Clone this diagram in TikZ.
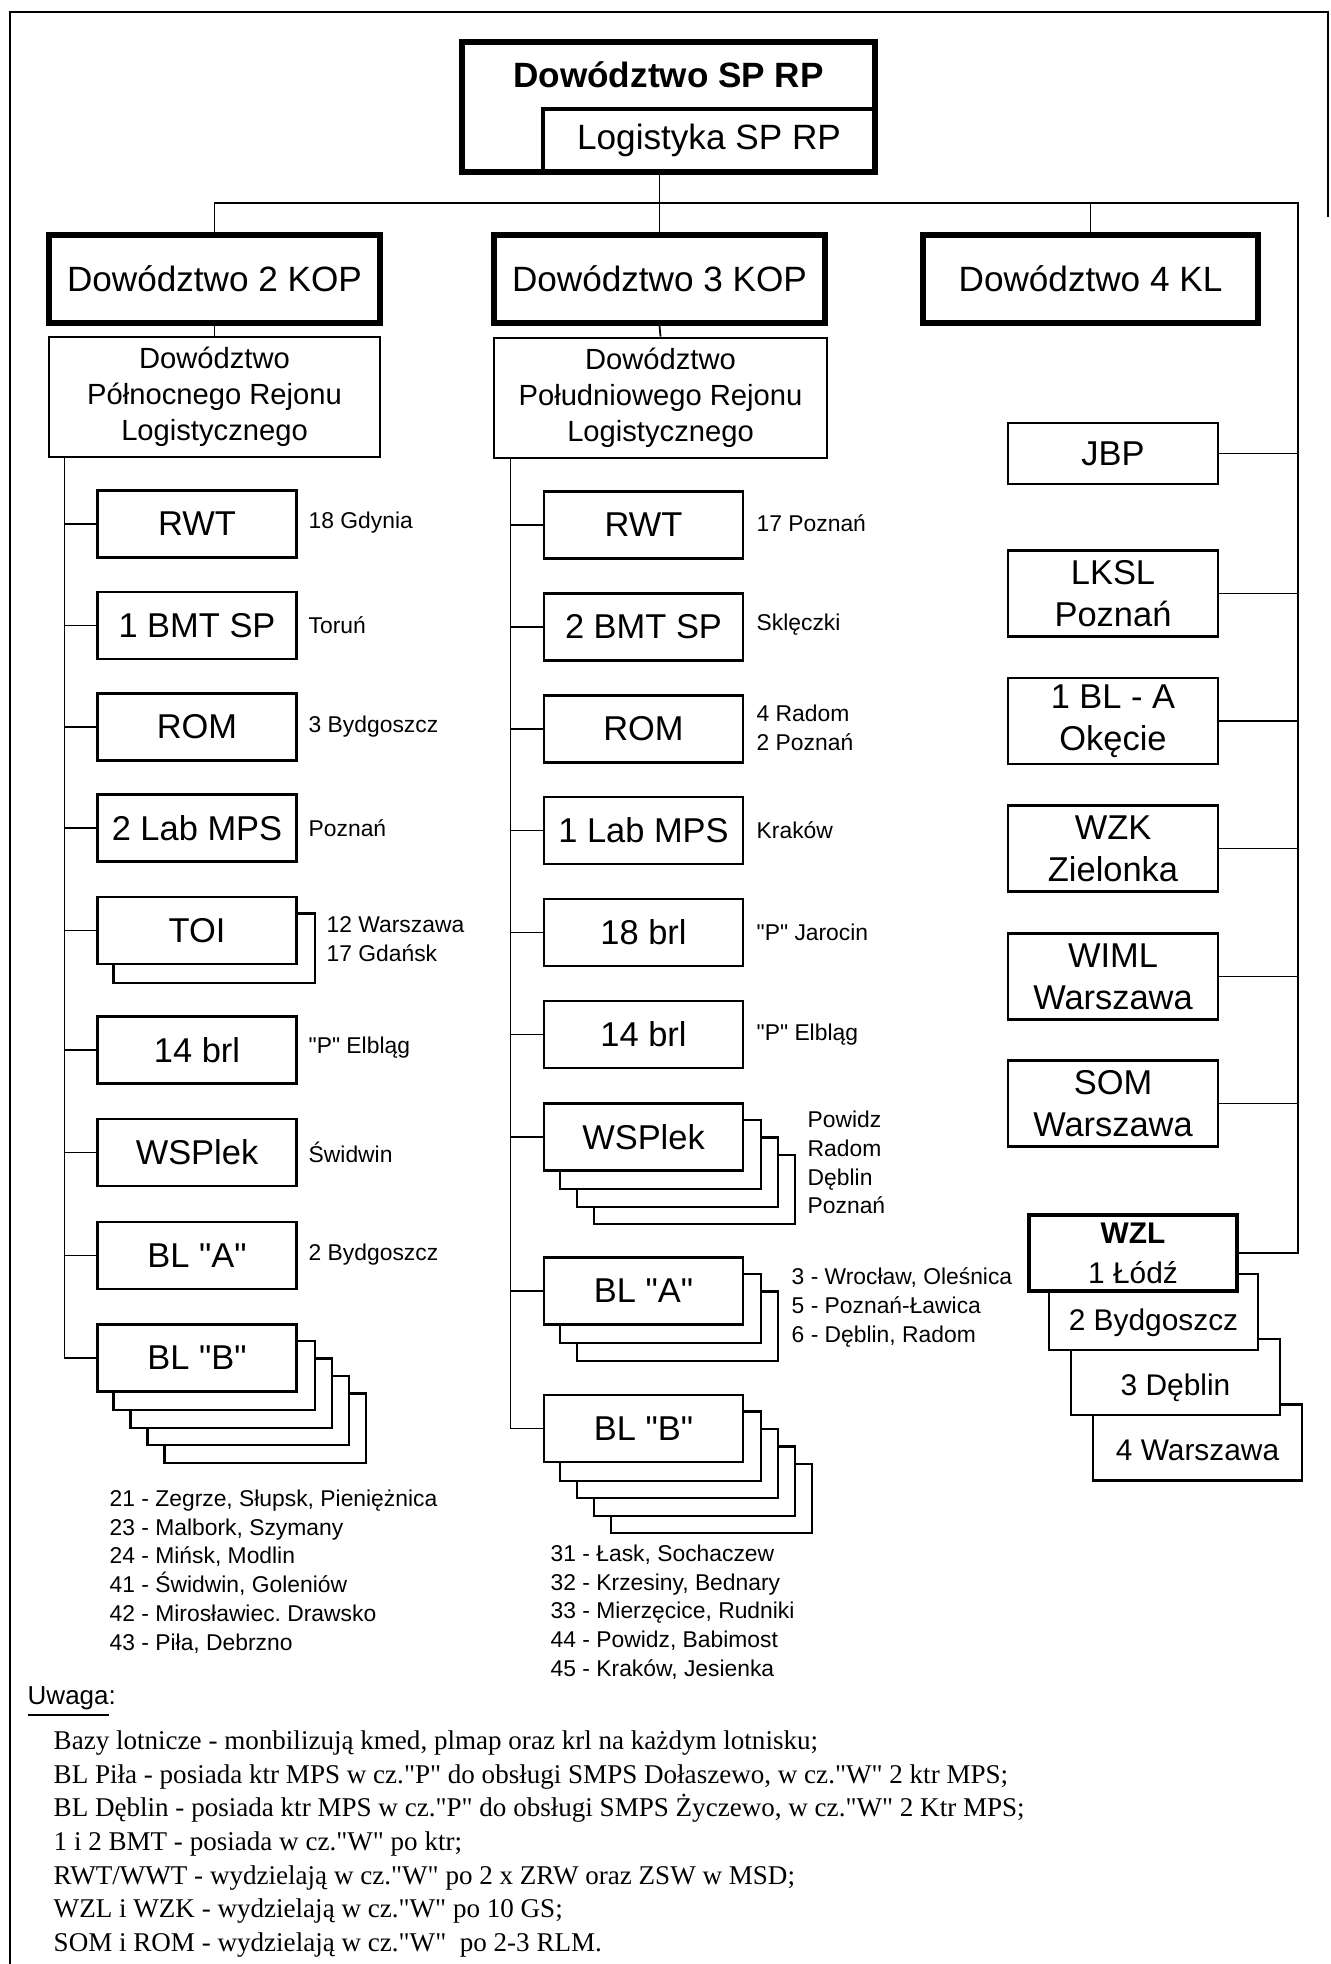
\documentclass[tikz,border=0pt]{standalone}
\usepackage{fontspec}
\setmainfont{Liberation Sans}[Ligatures=TeXOff]
\newfontfamily\notefont{Liberation Serif}[Ligatures=TeXOff]
\usetikzlibrary{backgrounds}
\frenchspacing

\begin{document}
\begin{tikzpicture}[
    cmdbox/.style={draw, line width=1.5pt, fill=white, minimum width=3.31cm,
      minimum height=0.88cm, inner sep=0pt, font=\fontsize{10}{12}\selectfont},
    rejbox/.style={draw, line width=0.8pt, fill=white, minimum width=3.31cm,
      minimum height=1.20cm, inner sep=0pt, align=center,
      font=\fontsize{8.3}{10.2}\selectfont},
    unitbox/.style={draw, line width=0.7pt, fill=white, minimum width=1.99cm,
      minimum height=0.67cm, inner sep=0pt, font=\fontsize{9.8}{12}\selectfont},
    klbox/.style={draw, line width=0.8pt, fill=white, minimum width=2.10cm,
      minimum height=0.86cm, inner sep=0pt, align=center,
      font=\fontsize{9.8}{12}\selectfont},
    wzlbox/.style={draw, line width=0.8pt, fill=white, minimum width=2.09cm,
      inner sep=0pt, text height=0.56cm, text depth=0.20cm,
      font=\fontsize{8.5}{10}\selectfont},
    place/.style={anchor=west, inner sep=0pt, align=left,
      font=\fontsize{6.5}{8.2}\selectfont},
    shadowbox/.style={draw, line width=0.7pt, fill=white},
    link/.style={line width=0.5pt}
  ]
  \useasboundingbox (0,0) rectangle (13.3,-19.64);
  \draw[line width=0.6pt] (0.10,-19.64) -- (0.10,-0.12) -- (13.28,-0.12) -- (13.28,-2.17);

  % command
  \node[draw, line width=1.5pt, minimum width=4.13cm, inner sep=0pt,
    text height=0.455cm, text depth=0.845cm,
    font=\bfseries\fontsize{10}{12}\selectfont] (spHQ) at (6.685,-1.07) {Dowództwo SP RP};
  \node[draw, line width=0.9pt, minimum width=3.32cm, minimum height=0.63cm,
    inner sep=0pt, font=\fontsize{10}{12}\selectfont] (logSP) at (7.09,-1.405) {Logistyka SP RP};

  \node[cmdbox] (kop2) at (2.145,-2.79) {Dowództwo 2 KOP};
  \node[cmdbox] (kop3) at (6.595,-2.79) {Dowództwo 3 KOP};
  \node[cmdbox, minimum width=3.35cm] (kop4) at (10.905,-2.79) {Dowództwo 4 KL};

  \node[rejbox] (rejN) at (2.145,-3.97) {Dowództwo\\Północnego Rejonu\\Logistycznego};
  \node[rejbox, minimum width=3.33cm] (rejS) at (6.605,-3.98) {Dowództwo\\Południowego Rejonu\\Logistycznego};

  % 2 KOP
  \node[unitbox] (rwtN) at (1.97,-5.24) {RWT};
  \node[unitbox] (bmtN) at (1.97,-6.255) {1 BMT SP};
  \node[unitbox] (romN) at (1.97,-7.27) {ROM};
  \node[unitbox] (labN) at (1.97,-8.28) {2 Lab MPS};
  \node[unitbox] (toiN) at (1.97,-9.305) {TOI};
  \node[unitbox] (brlN) at (1.97,-10.50) {14 brl};
  \node[unitbox] (wspN) at (1.97,-11.525) {WSPlek};
  \node[unitbox] (blaN) at (1.97,-12.555) {BL "A"};
  \node[unitbox] (blbN) at (1.97,-13.58) {BL "B"};

  \node[place] (rwtNat) at (3.08,-5.23) {18 Gdynia};
  \node[place] (bmtNat) at (3.08,-6.25) {Toruń};
  \node[place] (romNat) at (3.08,-7.27) {3 Bydgoszcz};
  \node[place] (labNat) at (3.08,-8.28) {Poznań};
  \node[place] (toiNat) at (3.26,-9.39) {12 Warszawa\\17 Gdańsk};
  \node[place] (brlNat) at (3.08,-10.48) {"P" Elbląg};
  \node[place] (wspNat) at (3.08,-11.52) {Świdwin};
  \node[place] (blaNat) at (3.08,-12.55) {2 Bydgoszcz};
  \node[place] (blbNat) at (1.09,-15.715)
    {21 - Zegrze, Słupsk, Pieniężnica\\23 - Malbork, Szymany\\24 - Mińsk, Modlin\\
     41 - Świdwin, Goleniów\\42 - Mirosławiec. Drawsko\\43 - Piła, Debrzno};

  % 3 KOP
  \node[unitbox] (rwtS) at (6.435,-5.25) {RWT};
  \node[unitbox] (bmtS) at (6.435,-6.27) {2 BMT SP};
  \node[unitbox] (romS) at (6.435,-7.29) {ROM};
  \node[unitbox] (labS) at (6.435,-8.305) {1 Lab MPS};
  \node[unitbox] (brlS) at (6.435,-9.325) {18 brl};
  \node[unitbox] (brlSb) at (6.435,-10.345) {14 brl};
  \node[unitbox] (wspS) at (6.435,-11.37) {WSPlek};
  \node[unitbox] (blaS) at (6.435,-12.91) {BL "A"};
  \node[unitbox] (blbS) at (6.435,-14.285) {BL "B"};

  \node[place] (rwtSat) at (7.56,-5.23) {17 Poznań};
  \node[place] (bmtSat) at (7.56,-6.25) {Sklęczki};
  \node[place] (romSat) at (7.56,-7.28) {4 Radom\\2 Poznań};
  \node[place] (labSat) at (7.56,-8.30) {Kraków};
  \node[place] (brlSat) at (7.56,-9.32) {"P" Jarocin};
  \node[place] (brlSbat) at (7.56,-10.35) {"P" Elbląg};
  \node[place] (wspSat) at (8.07,-11.625) {Powidz\\Radom\\Dęblin\\Poznań};
  \node[place] (blaSat) at (7.91,-13.075)
    {3 - Wrocław, Oleśnica\\5 - Poznań-Ławica\\6 - Dęblin, Radom};
  \node[place] (blbSat) at (5.50,-16.12)
    {31 - Łask, Sochaczew\\32 - Krzesiny, Bednary\\33 - Mierzęcice, Rudniki\\
     44 - Powidz, Babimost\\45 - Kraków, Jesienka};

  % 4 KL
  \node[klbox, minimum height=0.61cm] (jbp) at (11.13,-4.535) {JBP};
  \node[klbox] (lksl) at (11.13,-5.935) {LKSL\\Poznań};
  \node[klbox] (blaO) at (11.13,-7.21) {1 BL - A\\Okęcie};
  \node[klbox] (wzk) at (11.13,-8.485) {WZK\\Zielonka};
  \node[klbox] (wiml) at (11.13,-9.765) {WIML\\Warszawa};
  \node[klbox] (som) at (11.13,-11.035) {SOM\\Warszawa};

  \node[wzlbox] (wzl4) at (11.975,-14.425) {4 Warszawa};
  \node[wzlbox] (wzl3) at (11.755,-13.77) {3 Dęblin};
  \node[wzlbox] (wzl2) at (11.535,-13.12) {2 Bydgoszcz};
  \node[draw, line width=1.1pt, fill=white, minimum width=2.08cm, minimum height=0.76cm,
    inner sep=0pt, align=center, font=\fontsize{8.5}{11.4}\selectfont]
    (wzl) at (11.33,-12.53) {\textbf{WZL}\\1 Łódź};

  % stacked copies
  \begin{scope}[on background layer]
    \draw[shadowbox] ([shift={(0.17,-0.175)}]toiN.south west) rectangle ([shift={(0.17,-0.175)}]toiN.north east);
    \foreach \k in {4,3,2,1} {
      \draw[shadowbox] ([shift={(0.17*\k,-0.175*\k)}]blbN.south west) rectangle ([shift={(0.17*\k,-0.175*\k)}]blbN.north east);
      \draw[shadowbox] ([shift={(0.17*\k,-0.175*\k)}]blbS.south west) rectangle ([shift={(0.17*\k,-0.175*\k)}]blbS.north east);
    }
    \foreach \k in {3,2,1}
      \draw[shadowbox] ([shift={(0.17*\k,-0.175*\k)}]wspS.south west) rectangle ([shift={(0.17*\k,-0.175*\k)}]wspS.north east);
    \foreach \k in {2,1}
      \draw[shadowbox] ([shift={(0.17*\k,-0.175*\k)}]blaS.south west) rectangle ([shift={(0.17*\k,-0.175*\k)}]blaS.north east);
  \end{scope}

  % connectors
  \coordinate (busR) at (12.98,-2.03);
  \draw[link] (kop2.north) |- (busR) |- (wzl.east);
  \draw[link] (spHQ.south -| kop3.north) -- (kop3.north);
  \draw[link] (kop4.north) -- (kop4.north |- busR);
  \draw[link] (kop2.south) -- (rejN.north);
  \draw[link] (kop3.south) -- (rejS.north);
  \draw[link] ([xshift=0.17cm]rejN.south west) |- (blbN.west);
  \draw[link] ([xshift=0.18cm]rejS.south west) |- (blbS.west);
  \foreach \unit in {rwtN,bmtN,romN,labN,toiN,brlN,wspN,blaN,rwtS,bmtS,romS,labS,brlS,brlSb,wspS,blaS}
    \draw[link] (\unit.west) -- ++(-0.32,0);
  \foreach \unit in {jbp,lksl,blaO,wzk,wiml,som}
    \draw[link] (\unit.east) -- (\unit.east -| busR);

  % note
  \node[anchor=west, inner sep=0pt, font=\fontsize{7.4}{9}\selectfont] (uwaga) at (0.27,-17.02) {\underline{Uwaga}:};
  \node[anchor=west, inner sep=0pt, align=left, font=\notefont\fontsize{7.7}{9.56}\selectfont] (notes) at (0.53,-18.44)
    {Bazy lotnicze - monbilizują kmed, plmap oraz krl na każdym lotnisku;\\
     BL Piła - posiada ktr MPS w cz."P" do obsługi SMPS Dołaszewo, w cz."W" 2 ktr MPS;\\
     BL Dęblin - posiada ktr MPS w cz."P" do obsługi SMPS Życzewo, w cz."W" 2 Ktr MPS;\\
     1 i 2 BMT - posiada w cz."W" po ktr;\\
     RWT/WWT - wydzielają w cz."W" po 2 x ZRW oraz ZSW w MSD;\\
     WZL i WZK - wydzielają w cz."W" po 10 GS;\\
     SOM i ROM - wydzielają w cz."W"~ po 2-3 RLM.};
\end{tikzpicture}
\end{document}
